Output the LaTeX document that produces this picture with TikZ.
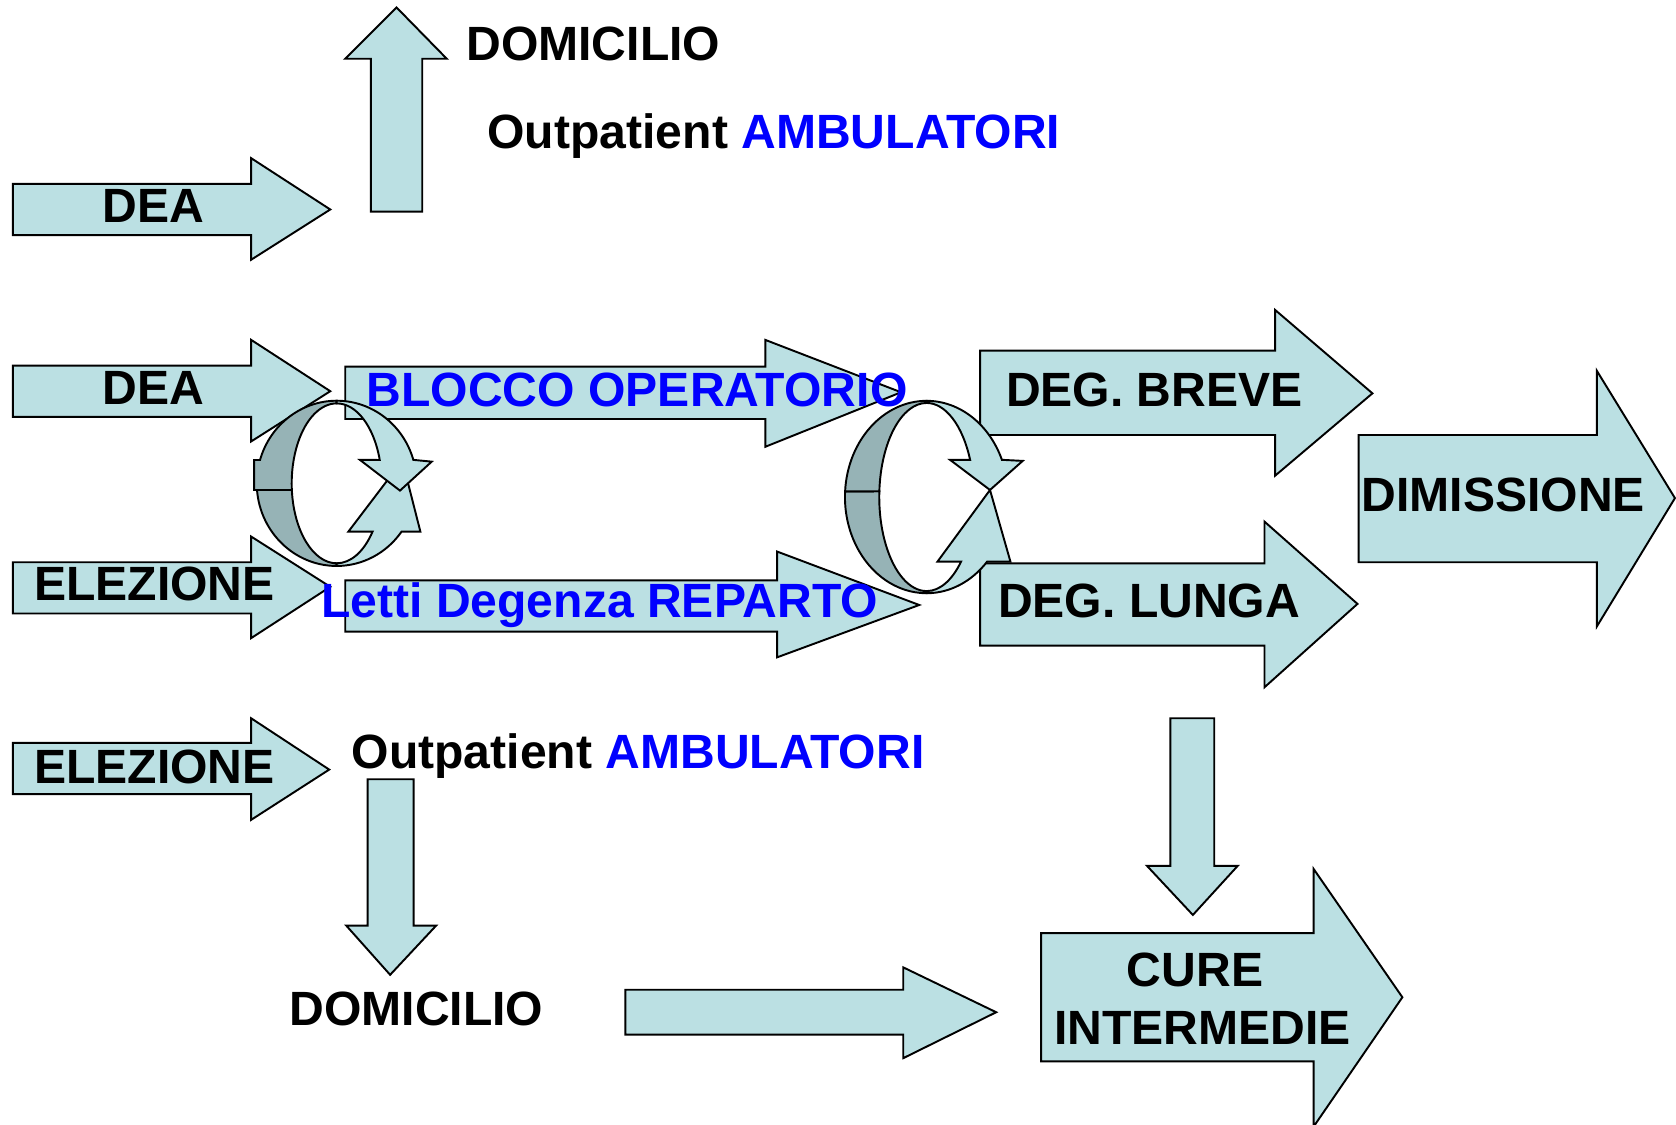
\documentclass[tikz,border=0pt]{standalone}
\usepackage{fontspec}
\setmainfont{Liberation Sans}
\definecolor{fillc}{RGB}{187,224,227}
\definecolor{darkc}{RGB}{150,179,182}
\definecolor{txtblue}{RGB}{0,0,255}
% right-pointing block arrow: left, shaft top, shaft bottom, shaft end, head top, head bottom, tip x, tip y
\newcommand\BlockR[8]{\draw[blk] (#1,#2) -- (#4,#2) -- (#4,#5) -- (#7,#8) -- (#4,#6) -- (#4,#3) -- (#1,#3) -- cycle;}
% vertical block arrow: shaft left, shaft right, shaft end (tail), head base y, head left, head right, tip x, tip y
\newcommand\BlockV[8]{\draw[blk] (#1,#3) -- (#2,#3) -- (#2,#4) -- (#6,#4) -- (#7,#8) -- (#5,#4) -- (#1,#4) -- cycle;}
\begin{document}
\begin{tikzpicture}[x=0.5pt,y=0.5pt,yscale=-1,
  blk/.style={draw=black, fill=fillc, line width=0.9pt, line join=miter},
  drk/.style={draw=black, fill=darkc, line width=0.9pt, line join=miter},
  lbl/.style={font=\fontsize{22.5}{27}\selectfont\bfseries, inner sep=0pt, anchor=base},
  blu/.style={lbl, text=txtblue}]
\useasboundingbox (0,0) rectangle (1568,1052);

% block arrows
\BlockR{12}{172}{220}{235}{148}{243}{309}{196}
\BlockR{12}{342}{390}{235}{318}{413}{309}{366}
\BlockR{12}{526}{574}{235}{502}{597}{309}{549}
\BlockR{12}{695}{743}{235}{672}{767}{308}{720}
\BlockR{323}{343}{392}{716}{318}{418}{843}{367}
\BlockR{323}{543}{591}{727}{516}{615}{860}{566}
\BlockR{917}{328}{407}{1193}{290}{445}{1284}{368}
\BlockR{917}{527}{604}{1183}{488}{643}{1270}{565}
\BlockR{1271}{407}{526}{1494}{347}{586}{1567}{466}
\BlockR{585}{926}{968}{845}{905}{990}{932}{947}
\BlockR{974}{873}{993}{1229}{813}{1054}{1312}{933}
\BlockV{347}{395}{198}{55}{323}{418}{371}{7}
\BlockV{344}{387}{729}{866}{324}{408}{365}{912}
\BlockV{1095}{1136}{672}{810}{1073}{1158}{1116}{856}

% cycle ring 1
\begin{scope}[shift={(315,452.2)}]
  \filldraw[drk] (175.4:74.8 and 77.3) arc[start angle=175.4, end angle=90, x radius=74.8, y radius=77.3]
    -- (90:42.1 and 74.8) arc[start angle=90, end angle=175.2, x radius=42.1, y radius=74.8] -- cycle;
  \filldraw[drk] (-77.2,6.2) -- (-77.2,-21.8) -- (196.4:74.8 and 77.3)
    arc[start angle=196.4, end angle=270, x radius=74.8, y radius=77.3]
    -- (270:42.1 and 74.8) arc[start angle=270, end angle=175.2, x radius=42.1, y radius=74.8] -- cycle;
  \filldraw[blk] (90:74.8 and 77.3) arc[start angle=90, end angle=35.8, x radius=74.8, y radius=77.3]
    -- (78.3,45.2) -- (61.4,-21.2) -- (10.9,45.2)
    -- (37.2:42.1 and 74.8) arc[start angle=37.2, end angle=90, x radius=42.1, y radius=74.8] -- cycle;
  \filldraw[blk] (-90:74.8 and 77.3) arc[start angle=-90, end angle=-16.5, x radius=74.8, y radius=77.3]
    -- (88.9,-20.3) -- (59.2,6.8) -- (21.8,-21.9)
    -- (-17.0:42.1 and 74.8) arc[start angle=-17.0, end angle=-90, x radius=42.1, y radius=74.8] -- cycle;
\end{scope}

% cycle ring 2
\begin{scope}[shift={(866.9,465)}]
  \filldraw[drk] (183.4:76.4 and 90) arc[start angle=183.4, end angle=90, x radius=76.4, y radius=90]
    -- (90:44.3 and 88) arc[start angle=90, end angle=183.5, x radius=44.3, y radius=88] -- cycle;
  \filldraw[drk] (183.4:76.4 and 90) arc[start angle=183.4, end angle=270, x radius=76.4, y radius=90]
    -- (270:44.3 and 88) arc[start angle=270, end angle=183.5, x radius=44.3, y radius=88] -- cycle;
  \filldraw[blk] (90:76.4 and 90) arc[start angle=90, end angle=42.15, x radius=76.4, y radius=90]
    -- (78.4,60.4) -- (59.3,-6.6) -- (10.2,60.4)
    -- (43.35:44.3 and 88) arc[start angle=43.35, end angle=90, x radius=44.3, y radius=88] -- cycle;
  \filldraw[blk] (-90:76.4 and 90) arc[start angle=-90, end angle=-22.75, x radius=76.4, y radius=90]
    -- (89.9,-33.8) -- (59.3,-6.6) -- (21.9,-34.8)
    -- (-23.3:44.3 and 88) arc[start angle=-23.3, end angle=-90, x radius=44.3, y radius=88] -- cycle;
\end{scope}

% labels
\node[lbl] (dea1) at (143.5,208) {DEA};
\node[lbl] (domtop) at (555,57) {DOMICILIO};
\node[lbl] (outtop) at (724,139) {Outpatient \textcolor{txtblue}{AMBULATORI}};
\node[lbl] (dea2) at (143.5,378) {DEA};
\node[blu] (blocco) at (596,380) {BLOCCO OPERATORIO};
\node[lbl] (elez3) at (144.5,562) {ELEZIONE};
\node[blu] (letti) at (561,578) {Letti Degenza REPARTO};
\node[lbl] (elez4) at (144.5,733) {ELEZIONE};
\node[lbl] (outbot) at (597,719) {Outpatient \textcolor{txtblue}{AMBULATORI}};
\node[lbl] (dombot) at (389.5,959) {DOMICILIO};
\node[lbl] (breve) at (1080,380.5) {DEG. BREVE};
\node[lbl] (lunga) at (1075,577.5) {DEG. LUNGA};
\node[lbl] (dimis) at (1406.5,479) {DIMISSIONE};
\node[lbl] (cure) at (1118,923) {CURE};
\node[lbl] (interm) at (1125,977.5) {INTERMEDIE};
\end{tikzpicture}
\end{document}
